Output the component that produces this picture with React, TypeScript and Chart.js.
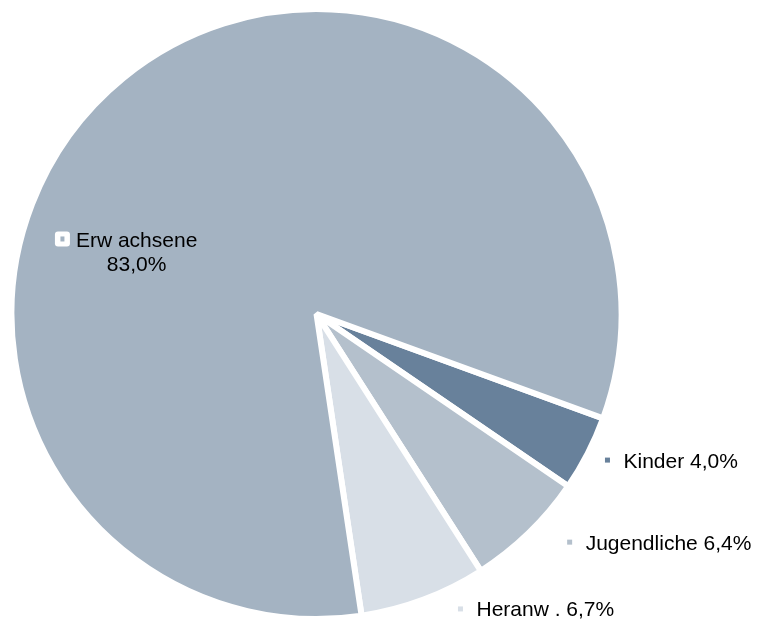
import React, { useEffect, useRef } from "react";
import { Chart, registerables } from "chart.js";

Chart.register(...registerables);

const categories = ["Kinder", "Jugendliche", "Heranw .", "Erw achsene"];
const values = [4.0, 6.4, 6.7, 83.0];
const valueLabels = ["4,0%", "6,4%", "6,7%", "83,0%"];
const colors = ["#68819B", "#B4C0CC", "#D8DFE7", "#A4B3C2"];

// label anchor positions relative to pie centre, in units of the outer radius
const labelAnchors = [
  [0.954, 0.479],
  [0.83, 0.748],
  [0.472, 0.967],
  [-0.833, -0.246],
];

const FONT = "21px 'Liberation Sans', Arial, sans-serif";

const labelPlugin = {
  id: "pieLabels",
  afterDatasetsDraw(chart: any) {
    const ctx = chart.ctx;
    const meta = chart.getDatasetMeta(0);
    const arc0 = meta.data[0];
    const cx = arc0.x;
    const cy = arc0.y;
    const r = arc0.outerRadius;
    ctx.save();
    ctx.font = FONT;
    ctx.fillStyle = "#000";
    ctx.textBaseline = "alphabetic";
    categories.forEach((cat, i) => {
      const mx = cx + labelAnchors[i][0] * r;
      const my = cy + labelAnchors[i][1] * r;
      if (i === 3) {
        const s = 15;
        const x0 = mx - s / 2;
        const y0 = my - s / 2;
        ctx.fillStyle = "#FFFFFF";
        ctx.beginPath();
        (ctx as any).roundRect(x0, y0, s, s, 3);
        ctx.fill();
        ctx.fillStyle = colors[i];
        ctx.fillRect(mx - 2, my - 2.5, 4, 5);
        ctx.fillStyle = "#000";
        ctx.textAlign = "left";
        const tx = x0 + s + 6;
        const base = y0 + s + 1;
        ctx.fillText(cat, tx, base);
        const w = ctx.measureText(cat).width;
        ctx.textAlign = "center";
        ctx.fillText(valueLabels[i], tx + w / 2, base + 24);
      } else {
        ctx.fillStyle = colors[i];
        ctx.fillRect(mx - 2.5, my - 2.5, 5, 5);
        ctx.fillStyle = "#000";
        ctx.textAlign = "left";
        ctx.fillText(cat + " " + valueLabels[i], mx + 16, my + 7.5);
      }
    });
    ctx.restore();
  },
};

export default function App() {
  const ref = useRef<HTMLCanvasElement | null>(null);
  useEffect(() => {
    if (!ref.current) return;
    const chart = new Chart(ref.current, {
      type: "pie",
      data: {
        labels: categories,
        datasets: [
          {
            data: values,
            backgroundColor: colors,
            borderColor: "#FFFFFF",
            borderWidth: 6,
          },
        ],
      },
      options: {
        responsive: false,
        animation: false,
        rotation: 110,
        layout: { padding: { left: 8.5, right: 134.5, top: 6, bottom: 2 } },
        plugins: {
          legend: { display: false },
          tooltip: { enabled: false },
        },
      },
      plugins: [labelPlugin],
    });
    return () => chart.destroy();
  }, []);
  return (
    <div style={{ position: "absolute", left: 0, top: 0, width: 759, height: 624, background: "#fff" }}>
      <canvas ref={ref} width={759} height={624} />
    </div>
  );
}
